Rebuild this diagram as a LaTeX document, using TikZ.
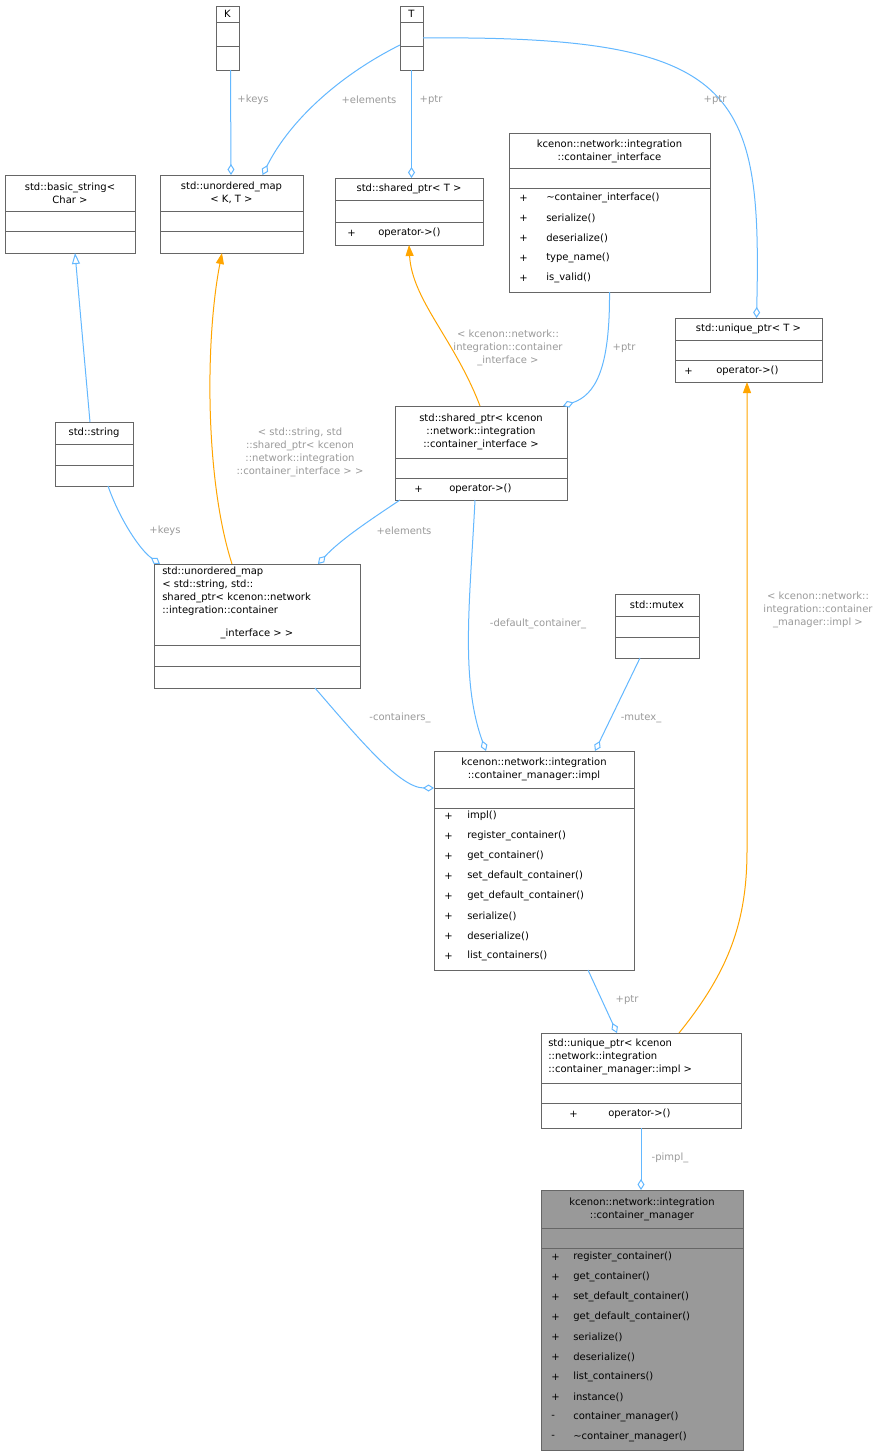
\documentclass[tikz,border=0pt]{standalone}
\usepackage{fontspec}
\setmainfont{DejaVu Sans}
\usetikzlibrary{arrows.meta,positioning,calc}
\definecolor{edgeblue}{HTML}{63B8FF}
\definecolor{tplorange}{HTML}{FFA500}
\definecolor{lblgray}{HTML}{9A9A9A}
\definecolor{boxgray}{HTML}{666666}
\definecolor{curgray}{HTML}{999999}

% box with two separator lines: name, x1, y1, x2, y2, sep1, sep2, fill
\newcommand\umlbox[8]{%
  \node[box,fill=#8,minimum width={(#4-#2)*0.75pt},minimum height={(#5-#3)*0.75pt}]
    (#1) at ({(#2+#4)/2},{(#3+#5)/2}) {};
  \draw[boxgray,line width=0.75pt] (#2,#6) -- (#4,#6) (#2,#7) -- (#4,#7);}
% member list: x of sign, x of name, y of first line, list of sign/name
\newcommand\members[4]{%
  \foreach \s/\m [count=\i] in {#4} {
    \node[txt,anchor=west] at (#1,{#3+20*(\i-1)}) {\s};
    \node[txt,anchor=west] at (#2,{#3+20*(\i-1)}) {\m};
  }}

\begin{document}
\begin{tikzpicture}[
    x=0.75pt, y=-0.75pt,
    box/.style={draw=boxgray,line width=0.75pt,inner sep=0pt,outer sep=0pt},
    txt/.style={font=\fontsize{7.5}{9.75}\selectfont,inner sep=0pt,align=center},
    lbl/.style={txt,text=lblgray},
    agg/.style={draw=edgeblue,line width=0.75pt,-{Diamond[open,length=11pt*0.75,width=7pt*0.75]}},
    inh/.style={draw=edgeblue,line width=0.75pt,-{Triangle[open,length=11pt*0.75,width=8pt*0.75]}},
    tpl/.style={draw=tplorange,line width=0.75pt,-{Triangle[length=11pt*0.75,width=8pt*0.75]}},
  ]
  \useasboundingbox (0,0) rectangle (895,1456);
  \fill[white] (0,0) rectangle (895,1456);

  % the classes
  \umlbox{K}{216}{6}{239}{70}{22}{46}{white}
  \node[txt] at (227.5,14) {K};
  \umlbox{T}{400}{6}{423}{70}{22}{46}{white}
  \node[txt] at (411.5,14) {T};
  \umlbox{bstr}{5}{175}{135}{253}{211}{231}{white}
  \node[txt] at (70,193) {std::basic\_string<\\Char >};
  \umlbox{kmap}{160}{175}{303}{253}{211}{231}{white}
  \node[txt] at (231.5,193) {std::unordered\_map\\< K, T >};
  \umlbox{sptrT}{335}{178}{483}{245}{200}{222}{white}
  \node[txt] at (409,189) {std::shared\_ptr< T >};
  \members{347}{378}{233}{+/operator->()}
  \umlbox{ci}{509}{133}{710}{292}{168}{188}{white}
  \node[txt] at (609.5,151) {kcenon::network::integration\\::container\_interface};
  \members{519}{546}{198}{+/\textasciitilde container\_interface(), +/serialize(),
    +/deserialize(), +/type\_name(), +/is\_valid()}
  \umlbox{uptrT}{675}{318}{822}{382}{340}{360}{white}
  \node[txt] at (748.5,329) {std::unique\_ptr< T >};
  \members{684}{716}{371}{+/operator->()}
  \umlbox{string}{55}{422}{133}{486}{444}{465}{white}
  \node[txt] at (94,433) {std::string};
  \umlbox{sptrCI}{395}{406}{567}{500}{458}{478}{white}
  \node[txt] at (481,432) {std::shared\_ptr< kcenon\\::network::integration\\::container\_interface >};
  \members{414}{449}{489}{+/operator->()}
  \umlbox{bigmap}{154}{564}{360}{688}{645}{666}{white}
  \node[txt,align=left,anchor=north west] at (162,567)
    {std::unordered\_map\\< std::string, std::\\shared\_ptr< kcenon::network\\::integration::container};
  \node[txt] at (257,634) {\_interface > >};
  \umlbox{mutex}{615}{594}{699}{658}{616}{637}{white}
  \node[txt] at (657,605) {std::mutex};
  \umlbox{impl}{434}{751}{634}{970}{788}{808}{white}
  \node[txt] at (534,769) {kcenon::network::integration\\::container\_manager::impl};
  \members{444}{467}{816}{+/impl(), +/register\_container(), +/get\_container(),
    +/set\_default\_container(), +/get\_default\_container(), +/serialize(),
    +/deserialize(), +/list\_containers()}
  \umlbox{uptrImpl}{541}{1033}{741}{1128}{1083}{1103}{white}
  \node[txt,align=left,anchor=north west] at (548,1039)
    {std::unique\_ptr< kcenon\\::network::integration\\::container\_manager::impl >};
  \members{569}{608}{1114}{+/operator->()}
  \umlbox{cm}{541}{1190}{743}{1450}{1228}{1248}{curgray}
  \node[txt] at (642,1209) {kcenon::network::integration\\::container\_manager};
  \members{551}{573}{1257}{+/register\_container(), +/get\_container(),
    +/set\_default\_container(), +/get\_default\_container(), +/serialize(),
    +/deserialize(), +/list\_containers(), +/instance(),
    -/container\_manager(), -/\textasciitilde container\_manager()}

  % the connectors
  \draw[agg] ($(K.south)+(3,0)$) -- ($(kmap.north)+(-0.5,0)$);
  \node[lbl] at (253,100) {+keys};
  \draw[agg] ($(T.west)+(0,7)$) .. controls (340,75) and (290,120) .. ($(kmap.north)+(31,0)$);
  \node[lbl] at (369,100) {+elements};
  \draw[agg] (T.south) -- (T.south |- sptrT.north);
  \node[lbl] at (431,100) {+ptr};
  \draw[agg] (T.east) .. controls (740,35) and (762,90) .. ($(uptrT.north)+(8,0)$);
  \node[lbl] at (715,100) {+ptr};
  \draw[inh] ($(string.north)+(-4,0)$) -- ($(bstr.south)+(5,0)$);
  \draw[tpl] ($(bigmap.north)+(-25,0)$) .. controls (205,480) and (205,340) .. ($(kmap.south)+(-9.5,0)$);
  \node[lbl] at (300,452) {< std::string, std\\::shared\_ptr< kcenon\\::network::integration\\::container\_interface > >};
  \draw[tpl] ($(sptrCI.north)+(-1,0)$) .. controls (455,340) and (412,300) .. (sptrT.south);
  \node[lbl] at (508,348) {< kcenon::network::\\integration::container\\\_interface >};
  \draw[agg] (ci.south) .. controls (610,370) and (595,395) .. ($(sptrCI.north east)+(-4,0)$);
  \node[lbl] at (624,348) {+ptr};
  \draw[agg] ($(string.south)+(14,0)$) .. controls (120,520) and (140,550) .. ($(bigmap.north west)+(6,0)$);
  \node[lbl] at (165,531) {+keys};
  \draw[agg] ($(sptrCI.south west)+(5,0)$) .. controls (370,520) and (340,540) .. ($(bigmap.north east)+(-42,0)$);
  \node[lbl] at (404,531) {+elements};
  \draw[agg] ($(bigmap.south)+(58,0)$) .. controls (360,740) and (400,788) .. ($(impl.north west)+(0,37)$);
  \node[lbl] at (400,718) {-containers\_};
  \draw[agg] ($(sptrCI.south)+(-6,0)$) .. controls (470,600) and (460,680) .. ($(impl.north)+(-48,0)$);
  \node[lbl] at (538,624) {-default\_container\_};
  \draw[agg] ($(mutex.south)+(-17,0)$) -- ($(impl.north)+(61,0)$);
  \node[lbl] at (641,718) {-mutex\_};
  \draw[tpl] ($(uptrImpl.north)+(38,0)$) .. controls (730,970) and (747,920) .. (747,850) -- ($(uptrT.south)+(-1.5,0)$);
  \node[lbl] at (818,610) {< kcenon::network::\\integration::container\\\_manager::impl >};
  \draw[agg] ($(impl.south)+(54,0)$) -- ($(uptrImpl.north)+(-24,0)$);
  \node[lbl] at (627,1000) {+ptr};
  \draw[agg] (uptrImpl.south) -- (uptrImpl.south |- cm.north);
  \node[lbl] at (670,1158) {-pimpl\_};
\end{tikzpicture}
\end{document}
